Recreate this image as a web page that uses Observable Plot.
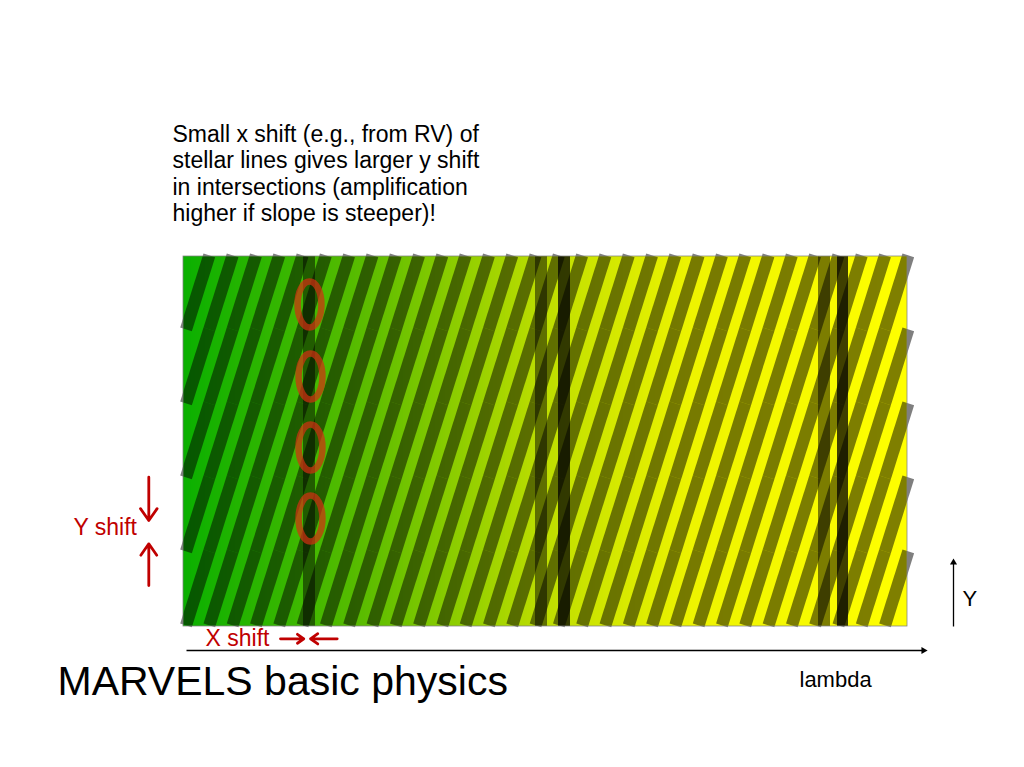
<!DOCTYPE html>
<html>
<head>
<meta charset="utf-8">
<script src="https://cdn.jsdelivr.net/npm/d3@7"></script>
<script src="https://cdn.jsdelivr.net/npm/@observablehq/plot@0.6"></script>
<style>
  html, body { margin: 0; padding: 0; background: #fff; overflow: hidden; }
</style>
</head>
<body>
<div id="chart"></div>
<script>
// ---- data (x = wavelength units across the spectrum box, y = detector Y units) ----
const boxExtent = {left: 0, right: 724, bottom: 0, top: 370};

// interferometer comb: top-left x of each slanted fringe and top y of each fringe row
const fringeStarts = [20, 43.3, 66.6, 89.9, 113.2, 136.5, 159.8, 183.1, 206.4, 229.7, 253,
  276.3, 299.6, 322.9, 346.2, 369.5, 392.8, 416.1, 439.4, 462.7, 486, 509.3, 532.6, 555.9,
  579.2, 602.5, 625.8, 649.1, 672.4, 695.7, 719];
const fringeRowTops = [373, 299, 225, 151, 77];
const fringeShiftPerRow = 23.3;   // x drift of a fringe over one row
const fringeRowHeight = 74;
const fringeWidth = 12.2;

// background colour along lambda
const spectrumStops = [0, 180, 362, 510, 724];
const spectrumColors = ["rgb(10,176,0)", "rgb(90,188,0)", "rgb(190,222,0)", "rgb(238,244,0)", "rgb(255,255,0)"];

// stellar absorption lines
const lineX1 = [120, 352, 375, 635, 654];
const lineX2 = [132, 364, 387, 647, 665];
const lineDepth = [0.5, 0.5, 0.75, 0.5, 0.75];

// highlighted intersections
const ringX = [126, 127, 127, 127];
const ringY = [322, 250, 179, 108];

// annotation arrows
const shiftArrowX1 = [-34.7, -34.7, 97, 153.7];
const shiftArrowY1 = [149.3, 41, -12.3, -12.3];
const shiftArrowX2 = [-34.7, -34.7, 120.3, 127];
const shiftArrowY2 = [106, 82.7, -12.3, -12.3];

const axisX1 = [3, 770];
const axisY1 = [-24, 0];
const axisX2 = [740, 770];
const axisY2 = [-24, 64];

// texts
const noteText = "Small x shift (e.g., from RV) of\nstellar lines gives larger y shift\nin intersections (amplification\nhigher if slope is steeper)!";
const noteX = -11, noteY = 503.5;
const labelTexts = ["MARVELS basic physics", "lambda", "Y", "Y shift", "X shift"];
const labelX = [-126, 616, 779, -110, 22];
const labelY = [-54.9, -53.6, 27.4, 98.4, -12.6];

// ---- derived tables ----
const slices = d3.range(boxExtent.left, boxExtent.right, 2).map(x => ({x1: x, x2: Math.min(x + 2.6, boxExtent.right), c: x + 1}));

const segLen = Math.hypot(fringeShiftPerRow, fringeRowHeight);
const cosT = fringeRowHeight / segLen, sinT = fringeShiftPerRow / segLen;
const fringePts = [];
fringeRowTops.forEach((y0, r) => {
  fringeStarts.forEach((x0, k) => {
    const id = r + "-" + k;
    const tl = [x0, y0];
    const tr = [x0 + fringeWidth * cosT, y0 - fringeWidth * sinT];
    const br = [tr[0] - fringeShiftPerRow, tr[1] - fringeRowHeight];
    const bl = [x0 - fringeShiftPerRow, y0 - fringeRowHeight];
    [tl, tr, br, bl, tl].forEach(p => fringePts.push({id, x: p[0], y: p[1]}));
  });
});

const lines = lineX1.map((x1, i) => ({x1, x2: lineX2[i], depth: lineDepth[i]}));
const rings = ringX.map((x, i) => ({x, y: ringY[i]}));
const shiftArrows = shiftArrowX1.map((x1, i) => ({x1, y1: shiftArrowY1[i], x2: shiftArrowX2[i], y2: shiftArrowY2[i]}));
const axes = axisX1.map((x1, i) => ({x1, y1: axisY1[i], x2: axisX2[i], y2: axisY2[i]}));
const labels = labelTexts.map((t, i) => ({t, x: labelX[i], y: labelY[i]}));

const ellipseSymbol = {
  draw(context, size) {
    const ry = Math.sqrt(size / Math.PI), rx = ry * 0.52, k = 0.5523;
    context.moveTo(0, -ry);
    context.bezierCurveTo(k * rx, -ry, rx, -k * ry, rx, 0);
    context.bezierCurveTo(rx, k * ry, k * rx, ry, 0, ry);
    context.bezierCurveTo(-k * rx, ry, -rx, k * ry, -rx, 0);
    context.bezierCurveTo(-rx, -k * ry, -k * rx, -ry, 0, -ry);
    context.closePath();
  }
};

const font = "'Liberation Sans', Arial, sans-serif";
const red = "#c00000";

const chart = Plot.plot({
  width: 1024,
  height: 767,
  margin: 0,
  x: {domain: [-183, 841], axis: null},
  y: {domain: [-141, 626], axis: null},
  color: {type: "linear", domain: spectrumStops, range: spectrumColors, interpolate: "rgb"},
  opacity: {domain: [0, 1], range: [0, 1]},
  style: {fontFamily: font, background: "#fff"},
  marks: [
    Plot.rect(slices, {x1: "x1", x2: "x2", y1: () => boxExtent.bottom, y2: () => boxExtent.top, fill: "c", shapeRendering: "crispEdges"}),
    Plot.line(fringePts, {x: "x", y: "y", z: "id", fill: "black", fillOpacity: 0.5, stroke: "none", curve: "linear"}),
    Plot.rect(lines, {x1: "x1", x2: "x2", y1: () => boxExtent.bottom, y2: () => boxExtent.top, fill: "black", fillOpacity: "depth"}),
    Plot.rect([boxExtent], {x1: "left", x2: "right", y1: "bottom", y2: "top", fill: "none", stroke: "#808080", strokeWidth: 0.75}),
    Plot.dot(rings, {x: "x", y: "y", r: 23, symbol: ellipseSymbol, fill: "none", stroke: "#d03010", strokeOpacity: 0.72, strokeWidth: 6.5}),
    Plot.text([noteText], {x: () => noteX, y: () => noteY, text: d => d, textAnchor: "start", lineAnchor: "top", lineHeight: 1.15, fontSize: 23, fill: "#000", fontFamily: font}),
    Plot.text(labels.slice(0, 1), {x: "x", y: "y", text: "t", textAnchor: "start", fontSize: 41, fill: "#000", fontFamily: font}),
    Plot.text(labels.slice(1, 3), {x: "x", y: "y", text: "t", textAnchor: "start", fontSize: 22, fill: "#000", fontFamily: font}),
    Plot.text(labels.slice(3), {x: "x", y: "y", text: "t", textAnchor: "start", fontSize: 23, fill: red, fontFamily: font}),
    Plot.arrow(shiftArrows, {x1: "x1", y1: "y1", x2: "x2", y2: "y2", stroke: red, strokeWidth: 2.8, headLength: 11, headAngle: 70}),
    Plot.link(axes, {x1: "x1", y1: "y1", x2: "x2", y2: "y2", stroke: "#000", strokeWidth: 1.3}),
    Plot.dot(axes, {x: "x2", y: "y2", symbol: "triangle2", r: 3.4, fill: "#000", stroke: "none", rotate: d => (d.y1 === d.y2 ? 90 : 0)})
  ]
});

document.getElementById("chart").append(chart);
</script>
</body>
</html>
